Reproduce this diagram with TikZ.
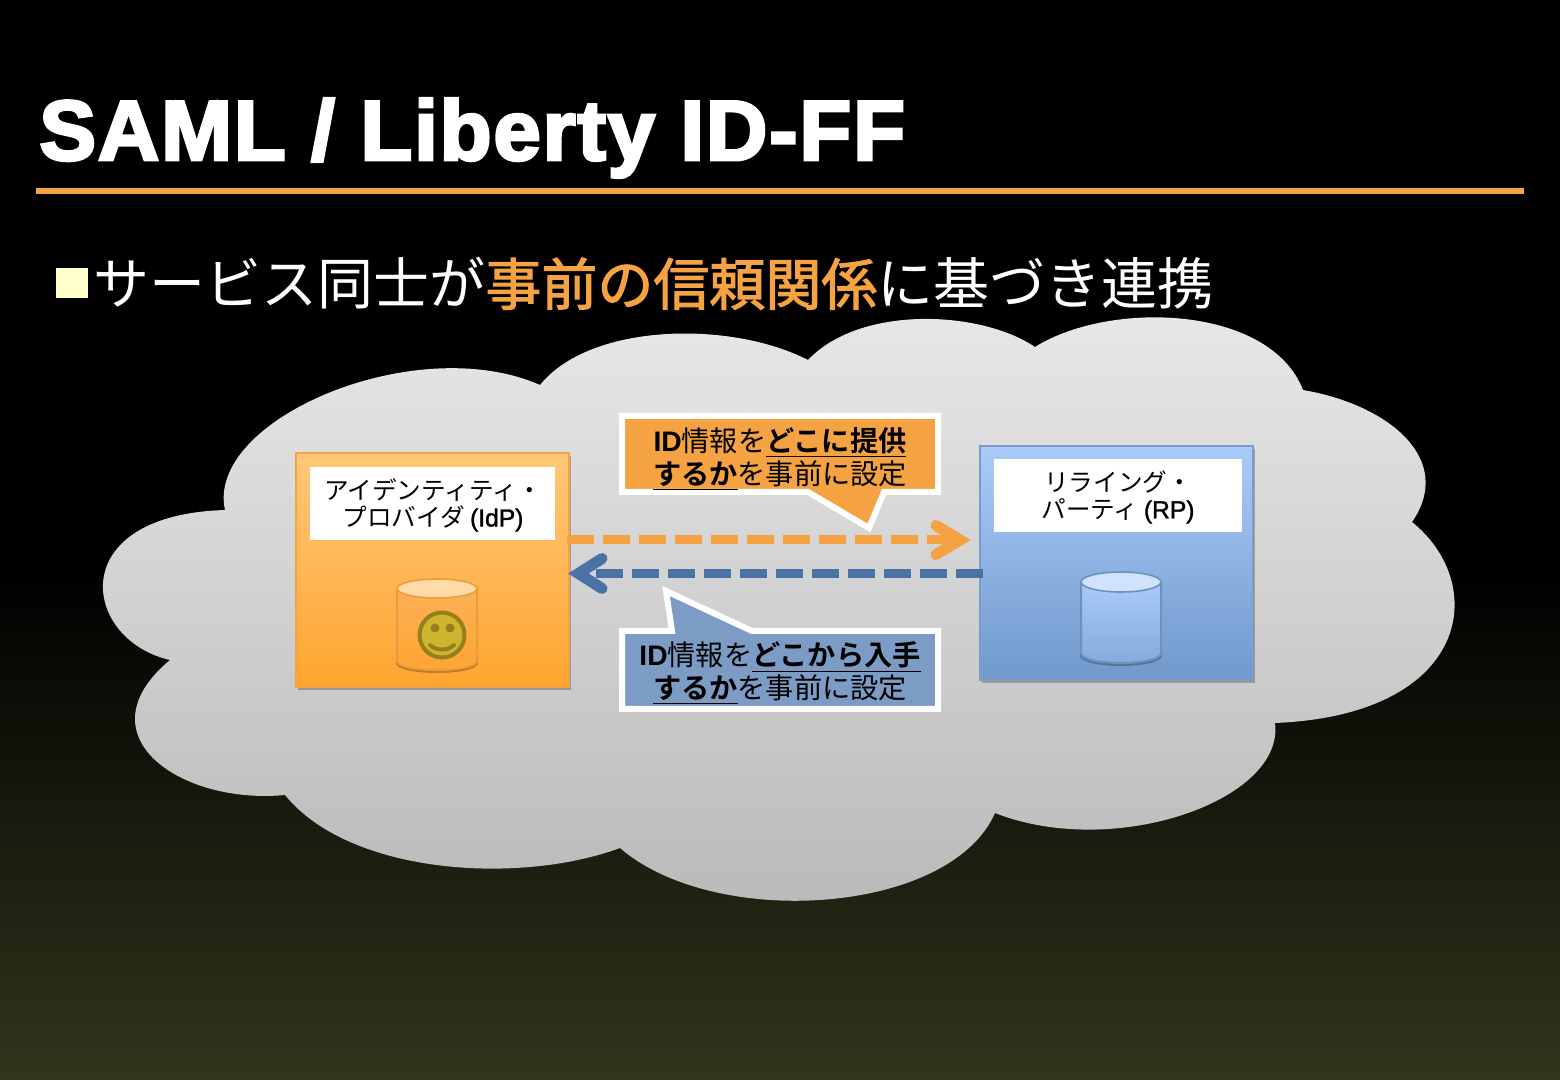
\documentclass[tikz,border=0pt]{standalone}
\usepackage{fontspec}
\usetikzlibrary{shadows,calc}
\setmainfont{Liberation Sans}
\newfontfamily\jp{Noto Sans CJK JP}
\newfontface\jpb{Noto Sans CJK JP Bold}
\newfontface\jpm[FakeBold=2]{Noto Sans CJK JP}
\newfontface\ttl[FakeBold=3.5,LetterSpace=2.2]{Liberation Sans Bold}
\newfontface\latb{Liberation Sans Bold}
\newfontface\latm[FakeBold=1.5]{Liberation Sans}
\definecolor{org}{RGB}{245,162,66}
\definecolor{blu}{RGB}{124,156,198}
\definecolor{bluarrow}{RGB}{74,114,165}
\definecolor{orgtop}{RGB}{255,200,120}
\definecolor{orgbot}{RGB}{255,165,48}
\definecolor{blutop}{RGB}{170,203,250}
\definecolor{blubot}{RGB}{112,153,204}
\tikzset{
  x=0.5pt,y=-0.5pt,
  bigbox/.style={minimum width=136.5pt,minimum height=117pt,inner sep=0pt,line width=1pt,
     drop shadow={shadow xshift=1pt,shadow yshift=-1.5pt,opacity=.25,fill=black}},
  idpbox/.style={bigbox,draw=org,top color=orgtop,bottom color=orgbot},
  rpbox/.style={bigbox,draw=blu,top color=blutop,bottom color=blubot},
  labelbg/.style={fill=white,inner sep=0pt,minimum height=36.5pt},
  labeltext/.style={inner sep=0pt,align=center,font=\jp\fontsize{12.3}{13.5}\selectfont},
  note/.style={line width=3pt,draw=white,line join=miter},
  notetext/.style={inner sep=0pt,align=center,font=\jp\fontsize{14.1}{16.5}\selectfont,text=black},
  darrow/.style={line width=4.5pt,dash pattern=on 13.5pt off 4.5pt},
  chev/.style={line width=5.5pt,line cap=round,line join=miter},
}
\newcommand{\cyl}[8]{% x1 x2 ytop yellipsebot ybot, edge, body top, body bottom
  \pgfmathsetmacro{\ry}{(#4-#3)/2}\pgfmathsetmacro{\cy}{(#3+#4)/2}
  \draw[black,opacity=.25,line width=1.5pt] (#1,#5-\ry+1.5) .. controls (#1,#5+\ry/3+1.5) and (#2,#5+\ry/3+1.5) .. (#2,#5-\ry+1.5);
  \path[top color=#7,bottom color=#8,draw=#6,line width=1pt]
     (#1,\cy) -- (#1,#5-\ry) .. controls (#1,#5+\ry/3) and (#2,#5+\ry/3) .. (#2,#5-\ry) -- (#2,\cy) -- cycle;
}
\begin{document}
\begin{tikzpicture}
\useasboundingbox (0,0) rectangle (1560,1080);
\fill[black] (0,0) rectangle (1560,570);
\definecolor{bgbot}{RGB}{48,54,28}
\shade[top color=black,bottom color=bgbot] (0,570) rectangle (1560,1080);
% cloud
\definecolor{cltop}{RGB}{232,232,232}
\definecolor{clbot}{RGB}{184,184,184}
\shade[top color=cltop,bottom color=clbot]
 (225,510) .. controls (205,420) and (415,330) .. (540,385)
 .. controls (590,323) and (730,320) .. (808,360)
 .. controls (860,305) and (980,310) .. (1035,347)
 .. controls (1110,300) and (1270,305) .. (1303,390)
 .. controls (1390,405) and (1455,460) .. (1412,522)
 .. controls (1490,585) and (1470,715) .. (1275,723)
 .. controls (1285,800) and (1115,860) .. (995,813)
 .. controls (950,915) and (715,930) .. (620,848)
 .. controls (520,885) and (350,875) .. (285,795)
 .. controls (180,805) and (80,735) .. (170,660)
 .. controls (82,640) and (62,515) .. (225,510) -- cycle;
% title
\node[anchor=base west,inner sep=0pt,text=white,font=\ttl\fontsize{42.5}{50}\selectfont] (title) at (39,160) {SAML / Liberty ID-FF};
\fill[org] (36,188) rectangle (1524,194);
% subhead
\fill[fill={rgb,255:red,255;green,255;blue,204}] (56,268) rectangle (88,298);
\node[anchor=base west,inner sep=0pt,text=white,font=\jp\fontsize{28}{30}\selectfont] (sub) at (93,305) {サービス同士が\textcolor{org}{\jpm 事前の信頼関係}に基づき連携};
% boxes
\node[idpbox] (idp) at (432.5,570.5) {};
\node[rpbox] (rp) at (1116.5,563.5) {};
\node[labelbg,minimum width=122.5pt] (idpbg) at (432.5,503.5) {};
\node[labelbg,minimum width=124pt] (rpbg) at (1118,495.5) {};
\node[labeltext] (idpl) at (433,505) {アイデンティティ・\\プロバイダ {\latm (IdP)}};
\node[labeltext] (rpl) at (1118,497) {リライング・\\パーティ {\latm (RP)}};
% cylinders
\definecolor{cob}{RGB}{238,155,60}
\definecolor{cbody}{RGB}{252,176,88}
\cyl{397}{477}{579}{598}{670}{cob}{cbody}{orgbot}
\fill[orgtop!65!white,draw=cob,line width=.8pt] (437,588.5) ellipse [x radius=40,y radius=9.5];
\definecolor{cbb}{RGB}{110,145,190}
\definecolor{cbbot}{RGB}{130,170,220}
\cyl{1081}{1161}{572}{592}{663}{cbb}{blutop}{cbbot}
\fill[blutop!55!white,draw=cbb,line width=.8pt] (1121,582) ellipse [x radius=40,y radius=10];
% smiley
\definecolor{smf}{RGB}{205,182,45}
\definecolor{sms}{RGB}{150,128,30}
\node[circle,fill=smf,draw=sms,line width=2pt,minimum size=22.5pt,inner sep=0pt] (smile) at (442,635) {};
\fill[sms] (435,628) circle (4.5);
\fill[sms] (450,628) circle (4.5);
\draw[sms,line width=2pt,line cap=round] (430,645) .. controls (436,651) and (448,651) .. (454,645);
% arrows
\coordinate (oa) at (567,540);
\coordinate (ob) at (960,540);
\coordinate (ba) at (983,573.5);
\coordinate (bb) at (578.5,573.5);
\draw[org,darrow] (oa) -- (ob);
\draw[org,chev] (936,525.5) -- (ob) -- (936,554.5);
\draw[bluarrow,darrow] (ba) -- (596,573.5);
\draw[bluarrow,chev] (602,558.5) -- (bb) -- (602,588.5);
% notes
\draw[note,fill=org] (622,416) -- (938,416) -- (938,492) -- (884,492) -- (869,528) -- (808,492) -- (622,492) -- cycle;
\node[notetext] (n1) at (780,459) {{\latb ID}情報を\underline{\jpb どこに提供}\\\underline{\jpb するか}を事前に設定};
\draw[note,fill=blu] (622,631) -- (672,631) -- (666,591) -- (752,631) -- (938,631) -- (938,709) -- (622,709) -- cycle;
\node[notetext] (n2) at (780,673.5) {{\latb ID}情報を\underline{\jpb どこから入手}\\\underline{\jpb するか}を事前に設定};
\end{tikzpicture}
\end{document}
